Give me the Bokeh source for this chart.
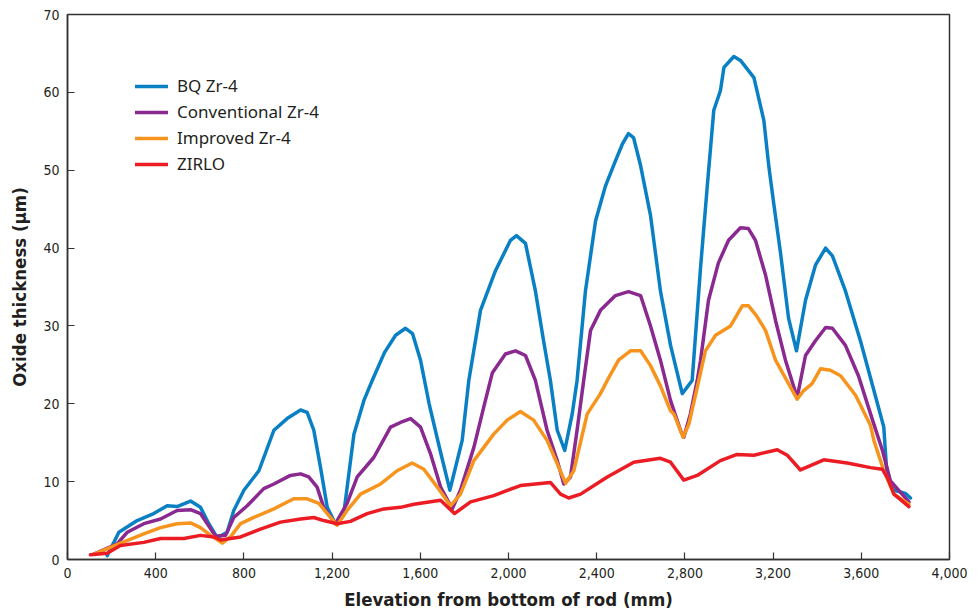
from bokeh.plotting import figure
from bokeh.models import FixedTicker, NumeralTickFormatter, Legend, LegendItem, Range1d
from bokeh.embed import file_html
from bokeh.resources import INLINE

bq_x = [180, 233, 316, 391, 452, 497, 558, 603, 641, 679, 724, 754, 800, 868, 936, 996, 1057, 1087, 1117, 1147,
        1178, 1215, 1253, 1299, 1344, 1382, 1438, 1488, 1533, 1565, 1601, 1640, 1690, 1734, 1790, 1820, 1873, 1941,
        2009, 2036, 2077, 2122, 2159, 2190, 2221, 2255, 2289, 2311, 2349, 2395, 2440, 2485, 2517, 2544, 2567, 2599,
        2644, 2689, 2735, 2788, 2833, 2871, 2901, 2931, 2961, 2977, 3022, 3052, 3113, 3158, 3181, 3203, 3234, 3270,
        3306, 3347, 3392, 3438, 3469, 3528, 3596, 3664, 3702, 3717, 3748, 3800, 3823]
bq_y = [0.5, 3.5, 5.0, 5.9, 6.9, 6.8, 7.5, 6.7, 4.6, 2.8, 3.5, 6.3, 8.9, 11.4, 16.6, 18.1, 19.2, 18.9, 16.6, 11.9,
        6.7, 4.6, 5.9, 16.1, 20.4, 23.0, 26.6, 28.8, 29.7, 29.0, 25.6, 20.0, 14.0, 8.9, 15.3, 23.0, 32.0, 37.1,
        41.0, 41.6, 40.6, 34.5, 28.1, 23.0, 16.6, 14.0, 18.7, 23.0, 34.5, 43.5, 48.0, 51.2, 53.4, 54.7, 54.2, 50.6,
        44.2, 34.5, 27.5, 21.3, 23.0, 37.5, 47.8, 57.7, 60.2, 63.2, 64.6, 64.1, 61.9, 56.4, 50.4, 45.7, 39.3, 31.0,
        26.8, 33.3, 37.8, 40.0, 39.0, 34.5, 28.1, 21.0, 17.0, 10.6, 8.9, 8.5, 7.9]

conv_x = [120, 225, 271, 346, 422, 497, 558, 603, 634, 671, 717, 754, 815, 890, 936, 1011, 1057, 1094, 1132, 1162,
          1215, 1268, 1314, 1389, 1465, 1510, 1556, 1601, 1646, 1692, 1745, 1782, 1843, 1888, 1927, 1986, 2032,
          2077, 2122, 2175, 2221, 2251, 2281, 2311, 2341, 2372, 2417, 2485, 2544, 2599, 2644, 2689, 2735, 2780,
          2795, 2825, 2856, 2871, 2907, 2952, 2998, 3052, 3088, 3120, 3166, 3211, 3256, 3309, 3347, 3392, 3438, 3469,
          3528, 3587, 3651, 3696, 3732, 3816]
conv_y = [0.7, 2.0, 3.5, 4.6, 5.2, 6.3, 6.4, 5.9, 4.6, 3.0, 3.1, 5.4, 6.9, 9.1, 9.7, 10.8, 11.0, 10.6, 9.3, 6.7,
          4.6, 7.2, 10.6, 13.1, 17.0, 17.6, 18.1, 17.0, 13.6, 9.3, 6.5, 8.9, 14.4, 19.6, 24.0, 26.4, 26.8,
          26.2, 23.0, 16.6, 12.7, 9.7, 10.6, 16.6, 23.0, 29.4, 32.0, 33.9, 34.4, 33.9, 30.0, 25.6, 20.4, 16.6,
          15.7, 18.7, 23.0, 25.6, 33.3, 38.1, 41.0, 42.6, 42.5, 41.0, 36.5, 30.7, 25.6, 20.8, 26.2, 28.1, 29.8, 29.7,
          27.5, 23.6, 17.9, 14.0, 10.1, 7.4]

imp_x = [120, 225, 346, 422, 497, 558, 603, 649, 702, 739, 785, 845, 936, 1026, 1087, 1140, 1178, 1223, 1268, 1329,
         1420, 1495, 1563, 1616, 1677, 1737, 1782, 1843, 1933, 1994, 2054, 2114, 2175, 2221, 2259, 2296, 2357, 2417,
         2448, 2499, 2553, 2599, 2644, 2689, 2735, 2750, 2792, 2818, 2856, 2893, 2939, 3007, 3061, 3088, 3125, 3166,
         3211, 3309, 3339, 3377, 3415, 3460, 3506, 3574, 3642, 3657, 3702, 3748, 3816]
imp_y = [0.7, 1.9, 3.3, 4.1, 4.6, 4.7, 4.1, 3.1, 2.1, 2.9, 4.6, 5.4, 6.5, 7.8, 7.8, 7.2, 5.9, 4.4, 6.3, 8.4,
         9.7, 11.4, 12.4, 11.6, 9.3, 6.9, 8.4, 12.7, 16.1, 17.9, 19.0, 17.9, 15.3, 12.3, 9.8, 11.4, 18.7, 21.3,
         23.0, 25.6, 26.8, 26.8, 24.9, 22.3, 19.1, 18.7, 15.7, 17.4, 22.1, 26.8, 28.8, 30.0, 32.6, 32.6, 31.3, 29.4,
         25.6, 20.6, 21.7, 22.6, 24.5, 24.3, 23.6, 21.1, 17.2, 15.3, 11.4, 8.4, 7.1]

zir_x = [104, 180, 240, 346, 422, 528, 603, 664, 694, 785, 875, 966, 1057, 1117, 1162, 1223, 1283, 1359, 1435, 1510,
         1571, 1692, 1755, 1828, 1933, 2054, 2190, 2236, 2273, 2327, 2448, 2568, 2689, 2735, 2795, 2856, 2961, 3037,
         3113, 3219, 3264, 3324, 3430, 3536, 3642, 3695, 3717, 3748, 3816]
zir_y = [0.6, 0.8, 1.8, 2.2, 2.7, 2.7, 3.1, 2.9, 2.5, 2.9, 3.9, 4.8, 5.2, 5.4, 5.0, 4.6, 4.9, 5.9, 6.5, 6.7,
         7.1, 7.6, 5.9, 7.4, 8.2, 9.5, 9.9, 8.4, 7.9, 8.4, 10.6, 12.5, 13.0, 12.5, 10.2, 10.8, 12.7, 13.5,
         13.4, 14.1, 13.4, 11.5, 12.8, 12.4, 11.8, 11.6, 10.6, 8.4, 6.8]

series_names = ["BQ Zr-4", "Conventional Zr-4", "Improved Zr-4", "ZIRLO"]
series_colors = ["#0a80c4", "#8a2990", "#f7941e", "#ec1c24"]

x_ticks = [0, 400, 800, 1200, 1600, 2000, 2400, 2800, 3200, 3600, 4000]
y_ticks = [0, 10, 20, 30, 40, 50, 60, 70]

TICK_FONT = "'DejaVu Sans Condensed', Roboto, sans-serif"

p = figure(width=972, height=612, output_backend="svg", toolbar_location=None,
           x_range=Range1d(0, 4000), y_range=Range1d(0, 70),
           min_border_left=67, min_border_right=23, min_border_top=14, min_border_bottom=53)
p.xgrid.visible = False
p.ygrid.visible = False
p.outline_line_color = "#333333"
p.outline_line_width = 1.5

data = [(bq_x, bq_y), (conv_x, conv_y), (imp_x, imp_y), (zir_x, zir_y)]
items = []
for (xs, ys), name, col in zip(data, series_names, series_colors):
    r = p.line(xs, ys, line_color=col, line_width=3.5, line_join="round", line_cap="round")
    items.append(LegendItem(label=name, renderers=[r]))

legend = Legend(items=items, location=(68, 384), padding=0, spacing=3, glyph_width=33, glyph_height=20,
                label_standoff=9, border_line_color=None, background_fill_alpha=0,
                label_text_font="Noto Sans", label_text_font_size="17px", label_text_color="#231f20")
p.add_layout(legend)

for ax in (p.xaxis[0], p.yaxis[0]):
    ax.axis_line_color = "#333333"
    ax.axis_line_width = 1.5
    ax.major_tick_line_color = "#333333"
    ax.major_tick_line_width = 1.2
    ax.major_tick_in = 7
    ax.major_tick_out = 0
    ax.minor_tick_line_color = None
    ax.major_label_text_font = TICK_FONT
    ax.major_label_text_font_size = "14px"
    ax.major_label_text_color = "#231f20"
    ax.axis_label_text_font = TICK_FONT
    ax.axis_label_text_font_style = "bold"
    ax.axis_label_text_font_size = "18.5px"
    ax.axis_label_text_color = "#231f20"

p.xaxis.ticker = FixedTicker(ticks=x_ticks)
p.yaxis.ticker = FixedTicker(ticks=y_ticks)
p.xaxis.formatter = NumeralTickFormatter(format="0,0")
p.xaxis.axis_label = "Elevation from bottom of rod (mm)"
p.yaxis.axis_label = "Oxide thickness (µm)"
p.xaxis.major_label_standoff = 8
p.yaxis.major_label_standoff = 8
p.xaxis.axis_label_standoff = 8
p.yaxis.axis_label_standoff = 10

open("out.html", "w").write(file_html(p, INLINE))
